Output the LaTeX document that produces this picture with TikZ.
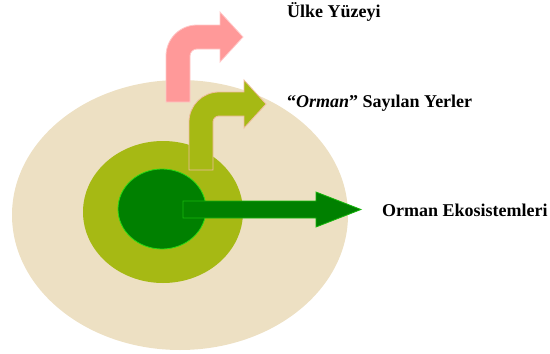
\documentclass[tikz,border=0pt]{standalone}
\usepackage{fontspec}
\setmainfont{Liberation Serif}

\definecolor{surface}{RGB}{237,224,195}
\definecolor{forestland}{RGB}{166,185,20}
\definecolor{ecosystem}{RGB}{0,128,0}
\definecolor{ecoedge}{RGB}{40,220,20}
\definecolor{country}{RGB}{255,153,153}
\definecolor{countryedge}{RGB}{255,200,200}
\definecolor{landedge}{RGB}{240,190,160}

\begin{document}
\begin{tikzpicture}
                [x=1pt, y=-1pt,
                label text/.style={anchor=base west,inner sep=0pt,
                    font=\bfseries\fontsize{18}{20}\selectfont},
                bent arrow/.style={line width=0.8pt,line join=miter},
                ]
                \useasboundingbox (0,0) rectangle (550,354);

                \fill[surface] (180,215) ellipse [x radius=168, y radius=135];
                \fill[forestland] (163,212) ellipse [x radius=80, y radius=71];
                \draw[ecoedge, fill=ecosystem, line width=0.8pt]
                    (162,209) ellipse [x radius=44, y radius=40];

                \draw[bent arrow, ecoedge!60!ecosystem, fill=ecosystem]
                    (183,201) -- (316,201) -- (316,192)
                    -- (361,209.5) coordinate (ecotip)
                    -- (316,227) -- (316,218) -- (183,218) -- cycle;

                \draw[bent arrow, landedge, fill=forestland]
                    (189,170) -- (189,122) arc[start angle=180, end angle=270, radius=30]
                    -- (244,92) -- (244,80)
                    -- (266,104) coordinate (landtip)
                    -- (244,128) -- (244,116) -- (219,116)
                    arc[start angle=270, end angle=180, radius=6]
                    -- (213,170) -- cycle;

                \draw[bent arrow, countryedge, fill=country]
                    (166,102) -- (166,56) arc[start angle=180, end angle=270, radius=31]
                    -- (220,25) -- (220,12)
                    -- (243,37) coordinate (countrytip)
                    -- (220,62) -- (220,49) -- (197,49)
                    arc[start angle=270, end angle=180, radius=7]
                    -- (190,102) -- cycle;

                \node[label text] (countrylabel) at (287,17) {Ülke Yüzeyi};
                \node[label text] (landlabel) at (287,107)
                    {“\textit{Orman}” Sayılan Yerler};
                \node[label text] (ecolabel) at (382,216) {Orman Ekosistemleri};
            \end{tikzpicture}
\end{document}
